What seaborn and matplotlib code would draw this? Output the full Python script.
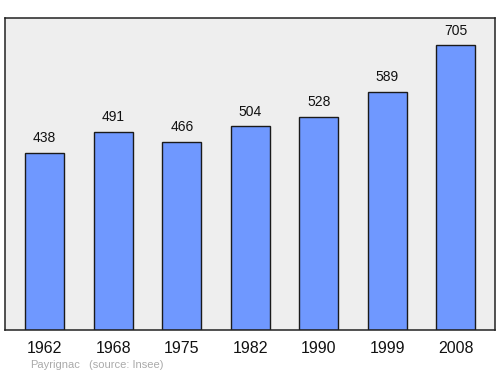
import matplotlib
matplotlib.use("Agg")
import matplotlib.pyplot as plt
import seaborn as sns
import pandas as pd

years = ["1962", "1968", "1975", "1982", "1990", "1999", "2008"]
population = [438, 491, 466, 504, 528, 589, 705]
commune = "Payrignac"
source = "(source: Insee)"

df = pd.DataFrame({"year": years, "pop": population})

sns.set_theme(style="white")
plt.rcParams['font.family'] = ['Liberation Sans', 'DejaVu Sans']

fig = plt.figure(figsize=(5, 3.74), dpi=100)
ax = fig.add_axes([5/500, 1 - 330/374, 490/500, 312/374])
ax.set_facecolor("#eeeeee")

sns.barplot(data=df, x="year", y="pop", ax=ax, color="#6f98ff", saturation=1,
            width=0.57, edgecolor="#1a1a1a", linewidth=1)

ax.set_xlim(-0.58, 6.57)
ax.set_ylim(0, 772)
for i, v in enumerate(population):
    ax.text(i, v + 36, str(v), ha="center", va="center", fontsize=10, color="#111111")

ax.set_xlabel("")
ax.set_ylabel("")
ax.set_yticks([])
ax.tick_params(axis="x", length=0, labelsize=11.5, pad=8, colors="#111111")
for s in ax.spines.values():
    s.set_color("#222222")
    s.set_linewidth(1.1)

fig.text(30/500, 1 - 365/374, commune, fontsize=8, color="#aaaaaa", va="center")
fig.text(89/500, 1 - 365/374, source, fontsize=8, color="#aaaaaa", va="center")

fig.savefig("out.png", dpi=100, facecolor="white")
